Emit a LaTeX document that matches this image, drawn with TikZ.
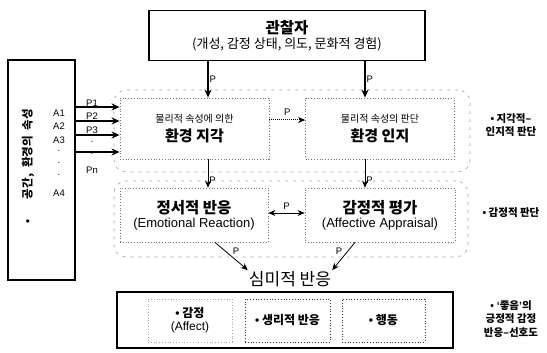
\documentclass[tikz,border=0pt]{standalone}
\usepackage{fontspec}
\setmainfont{Liberation Sans}
\newfontfamily\kr{Noto Sans CJK KR}
\usetikzlibrary{arrows.meta}
\usetikzlibrary{shapes}

\begin{document}
\begin{tikzpicture}[x=1pt,y=-1pt,
  solidbox/.style={draw,line width=1.3pt,inner sep=0pt,align=center},
  dotbox/.style={draw=black!55,dotted,line width=.8pt,inner sep=0pt,align=center},
  groupline/.style={draw=black!35,dash pattern=on 3pt off 5pt,line width=.7pt,rounded corners=12pt},
  bigarrow/.style={-{Stealth[length=8pt,width=7pt]},line width=1.4pt},
  smallarrow/.style={-{Stealth[length=7pt,width=6pt]},line width=.8pt},
  plabel/.style={font=\fontsize{9.5}{11}\selectfont,inner sep=1pt},
  note/.style={font=\kr\bfseries\fontsize{10.5}{13.5}\selectfont,align=center}]
  \useasboundingbox (0,0) rectangle (547,353);
  % dashed groups
  \node[groupline,minimum width=356pt,minimum height=82pt] (percgroup) at (292,131) {};
  \node[groupline,minimum width=354pt,minimum height=76pt] (affgroup) at (291,219) {};
  % observer and environment
  \node[solidbox,minimum width=276pt,minimum height=50pt] (observer) at (287,35.5)
    {{\kr\bfseries\fontsize{15.5}{17}\selectfont 관찰자}\\[2pt]{\kr\fontsize{13}{15}\selectfont (개성, 감정 상태, 의도, 문화적 경험)}};
  \node[solidbox,minimum width=67pt,minimum height=220pt] (space) at (41.5,170) {};
  \node[rotate=90,font=\kr\bfseries\fontsize{11.5}{13}\selectfont] (spacetext) at (28,166)
    {{\rmfamily •}\hspace{20pt}공간,\hspace{6pt}환경의\hspace{6pt}속성};
  \foreach \a/\y [count=\i] in {A1/113,A2/126,A3/140,·/152,·/164,·/176,A4/193}
    \node[plabel] (a\i) at (59,\y) {\a};
  \foreach \p/\y [count=\i] in {P1/103,P2/116,P3/130,·/143,·/155,Pn/170}
    \node[plabel] (p\i) at (92,\y) {\p};
  % judgement boxes
  \node[dotbox,minimum width=149pt,minimum height=61pt] (perception) at (194.5,128.5)
    {{\kr\fontsize{10}{12}\selectfont 물리적 속성에 의한}\\[5pt]{\kr\bfseries\fontsize{15}{17}\selectfont 환경 지각}};
  \node[dotbox,minimum width=149pt,minimum height=61pt] (cognition) at (380,128.5)
    {{\kr\fontsize{10}{12}\selectfont 물리적 속성의 판단}\\[5pt]{\kr\bfseries\fontsize{15}{17}\selectfont 환경 인지}};
  \node[dotbox,minimum width=148pt,minimum height=54pt] (emotion) at (194,215)
    {{\kr\bfseries\fontsize{15.5}{17}\selectfont 정서적 반응}\\[2pt]{\fontsize{13}{15}\selectfont (Emotional Reaction)}};
  \node[dotbox,minimum width=150pt,minimum height=54pt] (appraisal) at (380,215)
    {{\kr\bfseries\fontsize{15.5}{17}\selectfont 감정적 평가}\\[2pt]{\fontsize{13}{15}\selectfont (Affective Appraisal)}};
  % response
  \node[font=\kr\fontsize{17}{19}\selectfont,inner sep=1pt] (response) at (290,279) {심미적 반응};
  \node[solidbox,minimum width=336pt,minimum height=56pt] (responsebox) at (285,320) {};
  \node[dotbox,draw=black!35,minimum width=84pt,minimum height=43pt] (affect) at (190,320.5)
    {{\kr\bfseries\fontsize{12}{14}\selectfont {\rmfamily •} 감정}\\[1pt]{\fontsize{12}{14}\selectfont (Affect)}};
  \node[dotbox,draw=black!80,minimum width=85pt,minimum height=43pt] (physio) at (287.5,320.5)
    {{\kr\bfseries\fontsize{12}{14}\selectfont {\rmfamily •} 생리적 반응}};
  \node[dotbox,draw=black!80,minimum width=83pt,minimum height=43pt] (action) at (383.5,320.5)
    {{\kr\bfseries\fontsize{12}{14}\selectfont {\rmfamily •} 행동}};
  % notes
  \node[note] (percnote) at (511,125) {{\rmfamily •} 지각적–\\인지적 판단};
  \node[note] (affnote) at (511,213) {{\rmfamily •} 감정적 판단};
  \node[note] (prefnote) at (511,319) {{\rmfamily • ‘}좋음{\rmfamily ’}의\\긍정적 감정\\반응–선호도};
  % connectors
  \foreach \y in {107,121,135,152}
    \draw[bigarrow] (space.east |- 0,\y) -- (perception.west |- 0,\y);
  \draw[bigarrow] (observer.south -| 208,0) -- (perception.north -| 208,0)
    node[plabel,midway,right] (pobs) {P};
  \draw[bigarrow] (observer.south -| 365,0) -- (cognition.north -| 365,0)
    node[plabel,midway,right] (pcog) {P};
  \draw[-{Stealth[length=7pt,width=6pt]},densely dotted,line width=1pt] (perception.east |- 0,120) -- (cognition.west |- 0,120)
    node[plabel,midway,above=3pt] (pper) {P};
  \draw[smallarrow] (perception.south -| 208,0) -- (emotion.north -| 208,0)
    node[plabel,pos=.75,right] (pemo) {P};
  \draw[smallarrow] (cognition.south -| 365,0) -- (appraisal.north -| 365,0)
    node[plabel,pos=.75,right] (papp) {P};
  \draw[{Stealth[length=7pt,width=6pt]}-{Stealth[length=7pt,width=6pt]},line width=.8pt] (emotion.east |- 0,213) -- (appraisal.west |- 0,213)
    node[plabel,midway,above=2pt] (pmid) {P};
  \draw[smallarrow] (emotion.south -| 215,0) -- (response.north west)
    node[plabel,midway,above right] (pres1) {P};
  \draw[smallarrow] (appraisal.south -| 355,0) -- (response.north east)
    node[plabel,midway,above left] (pres2) {P};
\end{tikzpicture}
\end{document}
